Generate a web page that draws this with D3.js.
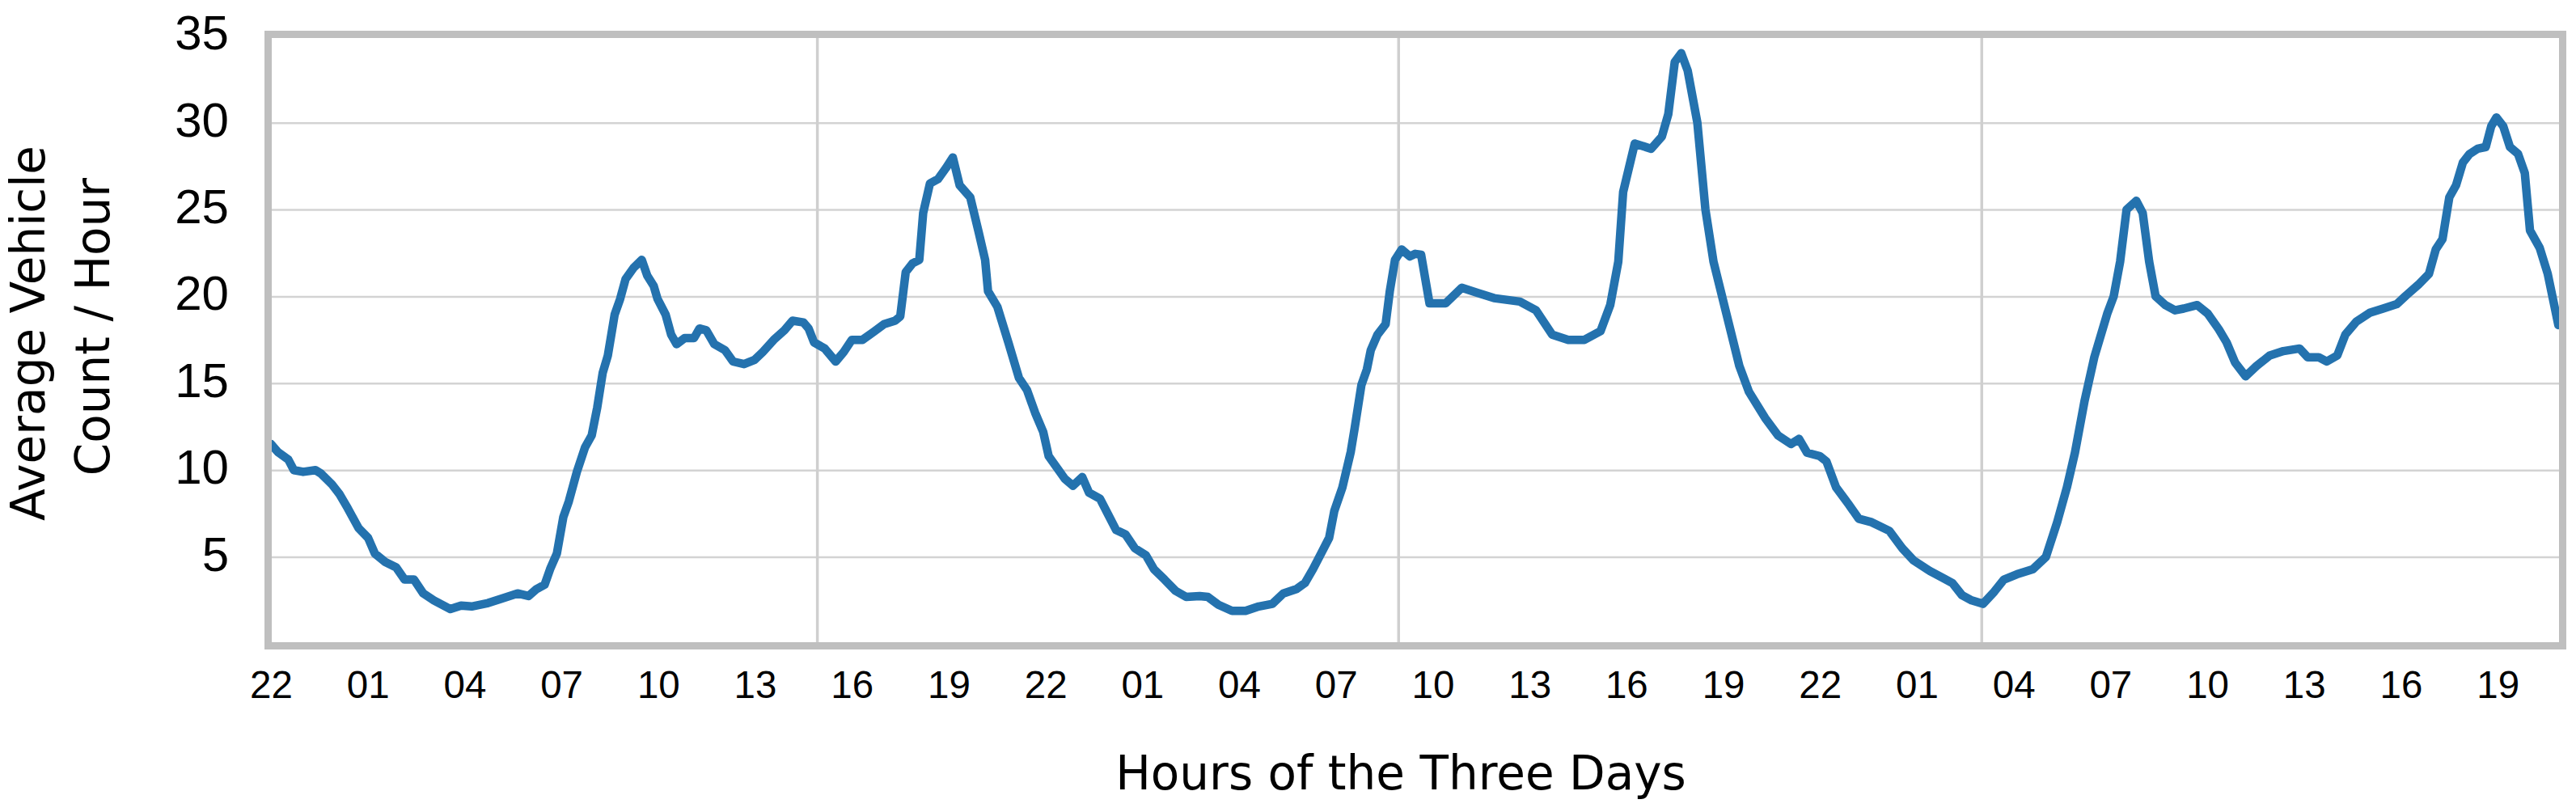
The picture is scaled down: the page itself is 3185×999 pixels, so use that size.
<!DOCTYPE html>
<html>
<head>
<meta charset="utf-8">
<script src="https://cdn.jsdelivr.net/npm/d3@7"></script>
<style>
    html, body { margin: 0; padding: 0; background: #fff; }
    svg { display: block; }
</style>
</head>
<body>
<div id="chart"></div>
<script>
// hours since 22:00 on the first evening, and the average count read at that hour
var hours = [
    0.0, 0.21, 0.54, 0.71, 1.0, 1.38, 1.55, 1.88, 2.13, 2.38, 2.72, 3.01, 3.22, 3.55, 3.88,
    4.14, 4.43, 4.72, 5.05, 5.56, 5.89, 6.22, 6.73, 7.14, 7.64, 7.98, 8.23, 8.48, 8.65, 8.86,
    9.06, 9.23, 9.48, 9.73, 9.94, 10.11, 10.28, 10.44, 10.65, 10.82, 10.99, 11.24, 11.49, 11.66,
    11.86, 11.98, 12.23, 12.4, 12.57, 12.82, 13.11, 13.28, 13.49, 13.74, 14.07, 14.32, 14.66,
    14.99, 15.24, 15.58, 15.91, 16.16, 16.5, 16.66, 16.83, 17.16, 17.5, 17.75, 18.0, 18.33,
    18.67, 19.0, 19.34, 19.5, 19.67, 19.88, 20.09, 20.21, 20.42, 20.67, 20.92, 21.13, 21.34,
    21.67, 21.93, 22.13, 22.22, 22.51, 22.85, 23.18, 23.43,
    23.68, 23.93, 24.1, 24.35, 24.6, 24.85, 25.14, 25.35, 25.69, 25.94, 26.19, 26.48, 26.77,
    27.11, 27.36, 27.69, 28.03, 28.36, 28.78, 29.03, 29.36, 29.78, 30.2, 30.61, 31.03, 31.37,
    31.78, 32.04, 32.29, 32.54, 32.79, 32.95, 33.2, 33.46, 33.58, 33.79, 33.96, 34.08, 34.29,
    34.54, 34.67, 34.83, 35.04, 35.29, 35.46,
    35.64, 35.9, 36.4, 36.9, 37.4, 37.9, 38.7, 39.2, 39.7, 40.2, 40.7, 41.2, 41.5, 41.75,
    41.9, 42.26, 42.77, 43.1, 43.3, 43.5, 43.7, 43.9, 44.2, 44.45, 44.7, 45.1, 45.5, 45.8,
    46.3, 46.7, 47.1, 47.35, 47.6, 48.0, 48.2, 48.5, 48.9, 49.2, 49.6, 50.15, 50.55, 50.9,
    51.4, 51.8, 52.1, 52.4, 52.7, 53.05, 53.4, 53.7, 54.1, 54.6, 55.0, 55.35, 55.65, 55.9,
    56.2, 56.5, 56.9, 57.1, 57.3, 57.5, 57.8, 58.0, 58.2, 58.4, 58.7, 59.0,
    59.27, 59.69, 60.02, 60.36, 60.6, 60.86, 61.19, 61.53, 61.94, 62.36, 62.86, 63.11, 63.45,
    63.7, 64.03, 64.28, 64.62, 65.03, 65.45, 65.87, 66.16, 66.54, 66.87, 67.08, 67.29, 67.5,
    67.71, 67.92, 68.13, 68.38, 68.63, 68.8, 68.96, 69.17, 69.38, 69.63, 69.84, 70.0, 70.3,
    70.55, 70.88
];
var counts = [
    11.5, 11.05, 10.6, 10.0, 9.9, 10.0, 9.8, 9.2, 8.6, 7.8, 6.65, 6.1, 5.2, 4.7, 4.4,
    3.7, 3.7, 2.9, 2.5, 2.0, 2.2, 2.15, 2.35, 2.6, 2.9, 2.75, 3.15, 3.4, 4.3, 5.2,
    7.3, 8.2, 9.9, 11.3, 12.0, 13.6, 15.6, 16.6, 18.95, 19.85, 21.0, 21.65, 22.1, 21.2,
    20.6, 19.85, 18.95, 17.8, 17.25, 17.6, 17.6, 18.15, 18.05, 17.25, 16.9, 16.25, 16.1,
    16.35, 16.8, 17.5, 18.05, 18.6, 18.5, 18.15, 17.35, 17.0, 16.25, 16.8, 17.5, 17.5,
    17.95, 18.4, 18.6, 18.85, 21.4, 21.9, 22.1, 24.8, 26.5, 26.75, 27.4, 28.0, 26.4,
    25.7, 23.7, 22.1, 20.3, 19.4, 17.35, 15.3, 14.6,
    13.3, 12.2, 10.8, 10.15, 9.5, 9.1, 9.6, 8.7, 8.35, 7.45, 6.55, 6.3, 5.5,
    5.1, 4.3, 3.7, 3.05, 2.7, 2.75, 2.7, 2.25, 1.9, 1.9, 2.15, 2.3, 2.9,
    3.15, 3.5, 4.3, 5.2, 6.1, 7.65, 9.0, 11.05, 12.4, 14.9, 15.8, 16.9, 17.8,
    18.4, 20.3, 22.1, 22.7, 22.3, 22.45,
    22.4, 19.6, 19.6, 20.5, 20.2, 19.9, 19.7, 19.2, 17.8, 17.5, 17.5, 18.0, 19.5, 22.0,
    26.0, 28.8, 28.5, 29.2, 30.5, 33.5, 34.0, 33.0, 30.0, 25.0, 22.0, 19.0, 16.0, 14.5,
    13.0, 12.0, 11.5, 11.8, 11.0, 10.8, 10.5, 9.0, 8.0, 7.2, 7.0, 6.5, 5.5, 4.8,
    4.2, 3.8, 3.5, 2.8, 2.5, 2.3, 3.0, 3.7, 4.0, 4.3, 5.0, 7.0, 9.0, 11.0,
    14.0, 16.5, 19.0, 20.0, 22.0, 25.0, 25.5, 24.8, 22.0, 20.0, 19.5, 19.2,
    19.3, 19.5, 19.0, 18.1, 17.35, 16.2, 15.4, 16.0, 16.6, 16.85, 17.0, 16.5, 16.5,
    16.25, 16.6, 17.8, 18.55, 19.05, 19.3, 19.55, 20.05, 20.67, 21.3, 22.7, 23.3, 25.7,
    26.4, 27.7, 28.2, 28.5, 28.6, 29.8, 30.3, 29.8, 28.6, 28.2, 27.1, 23.8, 22.8,
    21.3, 18.35
];

var tickHours = [0, 3, 6, 9, 12, 15, 18, 21, 24, 27, 30, 33, 36, 39, 42, 45, 48, 51, 54, 57, 60, 63, 66, 69];
var tickLabels = ["22", "01", "04", "07", "10", "13", "16", "19", "22", "01", "04", "07",
    "10", "13", "16", "19", "22", "01", "04", "07", "10", "13", "16", "19"];
var yTicks = [5, 10, 15, 20, 25, 30, 35];
var yGrid = [5, 10, 15, 20, 25, 30];
var xGridHours = [16.92, 34.93, 53.0];

var width = 3185, height = 999;
var plotLeft = 336, plotRight = 3164, plotTop = 47, plotBottom = 794;

var svg = d3.select("#chart")
    .append("svg")
    .attr("width", width)
    .attr("height", height);

var x = d3.scaleLinear().domain([0, 70.9]).range([335, plotRight]);
var y = d3.scaleLinear().domain([0, 35]).range([796, 44.3]);

// grid
svg.append("g")
    .attr("transform", "translate(" + plotLeft + ",0)")
    .call(d3.axisLeft(y).tickValues(yGrid).tickSize(-(plotRight - plotLeft)).tickFormat(""))
    .call(function (g) {
        g.select(".domain").remove();
        g.selectAll(".tick line").attr("stroke", "#d3d3d3").attr("stroke-width", 2.5);
    });

svg.append("g")
    .attr("transform", "translate(0," + plotBottom + ")")
    .call(d3.axisBottom(x).tickValues(xGridHours).tickSize(-(plotBottom - plotTop)).tickFormat(""))
    .call(function (g) {
        g.select(".domain").remove();
        g.selectAll(".tick line").attr("stroke", "#cfcfcf").attr("stroke-width", 3.5);
    });

// line
svg.append("clipPath")
    .attr("id", "plotClip")
    .append("rect")
    .attr("x", plotLeft)
    .attr("y", plotTop)
    .attr("width", plotRight - plotLeft)
    .attr("height", plotBottom - plotTop);

var line = d3.line()
    .x(function (d) { return x(d[0]); })
    .y(function (d) { return y(d[1]); });

svg.append("path")
    .datum(d3.zip(hours, counts))
    .attr("clip-path", "url(#plotClip)")
    .attr("fill", "none")
    .attr("stroke", "#2472ae")
    .attr("stroke-width", 10.5)
    .attr("stroke-linejoin", "round")
    .attr("stroke-linecap", "round")
    .attr("d", line);

// frame
svg.append("rect")
    .attr("x", plotLeft - 4.5)
    .attr("y", plotTop - 4.5)
    .attr("width", plotRight - plotLeft + 9)
    .attr("height", plotBottom - plotTop + 9)
    .attr("fill", "none")
    .attr("stroke", "#bfbfbf")
    .attr("stroke-width", 9);

// y axis labels
svg.append("g")
    .attr("transform", "translate(" + plotLeft + ",0)")
    .call(d3.axisLeft(y).tickValues(yTicks).tickSize(0).tickPadding(53))
    .call(function (g) {
        g.select(".domain").remove();
        g.selectAll(".tick text")
            .attr("dy", "16.5")
            .attr("fill", "#000")
            .style("font-family", "'Liberation Sans', Arial, sans-serif")
            .style("font-size", "60px");
    });

// x axis labels
svg.append("g")
    .attr("transform", "translate(0," + plotBottom + ")")
    .call(d3.axisBottom(x).tickValues(tickHours).tickSize(0)
        .tickFormat(function (d, i) { return tickLabels[i]; }))
    .call(function (g) {
        g.select(".domain").remove();
        g.selectAll(".tick text")
            .attr("y", 69)
            .attr("dy", 0)
            .attr("fill", "#000")
            .style("font-family", "'Liberation Sans', Arial, sans-serif")
            .style("font-size", "47.5px");
    });

// titles
svg.append("text")
    .attr("x", 1732)
    .attr("y", 976)
    .attr("text-anchor", "middle")
    .style("font-family", "'DejaVu Sans', sans-serif")
    .style("font-size", "58px")
    .text("Hours of the Three Days");

svg.append("text")
    .attr("transform", "translate(55,412) rotate(-90)")
    .attr("text-anchor", "middle")
    .style("font-family", "'DejaVu Sans', sans-serif")
    .style("font-size", "58px")
    .text("Average Vehicle");

svg.append("text")
    .attr("transform", "translate(135,404) rotate(-90)")
    .attr("text-anchor", "middle")
    .style("font-family", "'DejaVu Sans', sans-serif")
    .style("font-size", "58px")
    .text("Count / Hour");
</script>
</body>
</html>
